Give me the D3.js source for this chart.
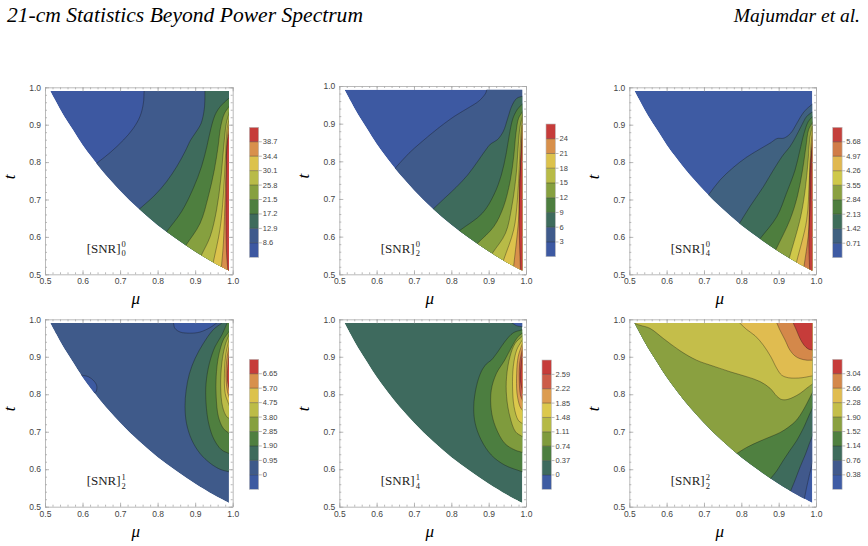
<!DOCTYPE html>
<html>
<head>
<meta charset="utf-8">
<script src="https://cdn.jsdelivr.net/npm/d3@7/dist/d3.min.js"></script>
<style>
  body { margin: 0; background: #fff; }
  svg { display: block; }
  .tk text { font-family: "Liberation Sans", Arial, sans-serif; font-size: 8.5px; fill: #444; }
  .tk path, .tk line { stroke: #a8a8a8; stroke-width: 0.8; }
  .cb text { font-family: "Liberation Sans", Arial, sans-serif; font-size: 7.5px; fill: #444; }
</style>
</head>
<body>
<svg id="fig" width="868" height="546"></svg>
<script>
// lower-left edge of the allowed (mu, t) region
const edge = [[0.514,0.99],[0.53,0.96],[0.55,0.924],[0.575,0.885],[0.6,0.846],[0.625,0.812],
  [0.65,0.78],[0.7,0.724],[0.75,0.675],[0.8,0.632],[0.85,0.595],[0.9,0.561],[0.95,0.531],[0.99,0.51]];

const muTicks = [0.5, 0.6, 0.7, 0.8, 0.9, 1.0];
const tTicks = [0.5, 0.6, 0.7, 0.8, 0.9, 1.0];

// contour levels (colour bar labels, bottom to top)
const levels00 = ["8.6","12.9","17.2","21.5","25.8","30.1","34.4","38.7"];
const levels02 = ["3","6","9","12","15","18","21","24"];
const levels04 = ["0.71","1.42","2.13","2.84","3.55","4.26","4.97","5.68"];
const levels12 = ["0","0.95","1.90","2.85","3.80","4.75","5.70","6.65"];
const levels14 = ["0","0.37","0.74","1.11","1.48","1.85","2.22","2.59"];
const levels22 = ["0.38","0.76","1.14","1.52","1.90","2.28","2.66","3.04"];

// contour lines as [mu, t] points; b = band index filled on the enclosed side
const lines00 = [
  {b:1, via:"R", p:[[0.764,0.99],[0.762,0.957],[0.753,0.922],[0.735,0.89],[0.709,0.859],[0.673,0.825],[0.638,0.797]]},
  {b:2, via:"R", p:[[0.926,0.99],[0.925,0.948],[0.916,0.904],[0.900,0.877],[0.888,0.859],[0.873,0.828],[0.851,0.788],[0.824,0.748],[0.793,0.712],[0.751,0.674]]},
  {b:3, via:"R", p:[[0.99,0.971],[0.968,0.950],[0.953,0.926],[0.941,0.886],[0.931,0.841],[0.917,0.788],[0.895,0.730],[0.864,0.668],[0.824,0.614]]},
  {b:4, via:"R", p:[[0.99,0.948],[0.978,0.930],[0.968,0.895],[0.961,0.841],[0.951,0.779],[0.935,0.708],[0.913,0.636],[0.875,0.577]]},
  {b:5, via:"R", p:[[0.99,0.930],[0.983,0.904],[0.976,0.841],[0.968,0.752],[0.957,0.672],[0.94,0.601],[0.917,0.552]]},
  {b:6, via:"R", p:[[0.99,0.914],[0.985,0.886],[0.98,0.80],[0.975,0.71],[0.966,0.62],[0.948,0.531]]},
  {b:7, via:"R", p:[[0.99,0.899],[0.986,0.868],[0.982,0.78],[0.979,0.68],[0.975,0.58],[0.97,0.52]]},
  {b:8, via:"R", p:[[0.99,0.877],[0.985,0.85],[0.983,0.75],[0.982,0.64],[0.984,0.55],[0.987,0.512]]}
];
const lines02 = [
  {b:1, via:"R", p:[[0.895,0.99],[0.892,0.981],[0.875,0.961],[0.844,0.941],[0.809,0.920],[0.765,0.888],[0.721,0.852],[0.686,0.821],[0.649,0.781]]},
  {b:2, via:"R", p:[[0.99,0.973],[0.975,0.967],[0.962,0.947],[0.951,0.914],[0.939,0.879],[0.923,0.857],[0.905,0.846],[0.892,0.830],[0.870,0.799],[0.844,0.764],[0.813,0.731],[0.782,0.702],[0.753,0.675]]},
  {b:3, via:"R", p:[[0.99,0.952],[0.977,0.938],[0.965,0.914],[0.956,0.874],[0.947,0.821],[0.934,0.764],[0.914,0.711],[0.883,0.662],[0.822,0.616]]},
  {b:4, via:"R", p:[[0.99,0.931],[0.98,0.914],[0.973,0.874],[0.967,0.812],[0.958,0.75],[0.94,0.68],[0.914,0.627],[0.870,0.582]]},
  {b:5, via:"R", p:[[0.99,0.918],[0.984,0.892],[0.979,0.839],[0.974,0.768],[0.962,0.68],[0.945,0.609],[0.91,0.556]]},
  {b:6, via:"R", p:[[0.99,0.905],[0.986,0.865],[0.982,0.786],[0.977,0.697],[0.967,0.618],[0.94,0.538]]},
  {b:7, via:"R", p:[[0.99,0.894],[0.987,0.839],[0.984,0.75],[0.98,0.644],[0.967,0.522]]},
  {b:8, via:"R", p:[[0.99,0.874],[0.986,0.812],[0.982,0.733],[0.982,0.618],[0.985,0.513]]}
];
const lines04 = [
  {b:1, via:"R", p:[[0.99,0.955],[0.968,0.935],[0.95,0.906],[0.932,0.877],[0.914,0.864],[0.896,0.863],[0.879,0.852],[0.85,0.835],[0.814,0.813],[0.779,0.786],[0.743,0.752],[0.712,0.712]]},
  {b:2, via:"R", p:[[0.99,0.934],[0.975,0.922],[0.962,0.899],[0.946,0.868],[0.93,0.841],[0.912,0.819],[0.886,0.779],[0.859,0.734],[0.823,0.681],[0.795,0.636]]},
  {b:3, via:"R", p:[[0.99,0.921],[0.979,0.908],[0.968,0.877],[0.957,0.832],[0.944,0.779],[0.921,0.717],[0.895,0.654],[0.85,0.595]]},
  {b:4, via:"R", p:[[0.99,0.905],[0.98,0.886],[0.973,0.841],[0.964,0.779],[0.95,0.708],[0.93,0.645],[0.893,0.567]]},
  {b:5, via:"R", p:[[0.99,0.894],[0.984,0.868],[0.979,0.806],[0.972,0.734],[0.959,0.654],[0.929,0.545]]},
  {b:6, via:"R", p:[[0.99,0.88],[0.986,0.841],[0.982,0.752],[0.975,0.645],[0.948,0.533]]},
  {b:7, via:"R", p:[[0.99,0.868],[0.987,0.797],[0.984,0.681],[0.979,0.601],[0.968,0.522]]},
  {b:8, via:"R", p:[[0.99,0.849],[0.984,0.788],[0.982,0.681],[0.981,0.574],[0.983,0.513]]}
];
const lines12 = [
  {b:0, via:"", p:[[0.842,0.99],[0.846,0.976],[0.860,0.966],[0.886,0.963],[0.913,0.966],[0.94,0.978],[0.957,0.99]]},
  {b:0, via:"", p:[[0.597,0.851],[0.615,0.847],[0.63,0.836],[0.638,0.822],[0.636,0.807],[0.631,0.803]]},
  {b:2, via:"C", p:[[0.971,0.99],[0.948,0.972],[0.922,0.936],[0.9,0.896],[0.885,0.856],[0.876,0.811],[0.873,0.767],[0.877,0.722],[0.891,0.678],[0.913,0.642],[0.94,0.616],[0.966,0.60],[0.99,0.593]]},
  {b:3, via:"C", p:[[0.985,0.99],[0.971,0.958],[0.953,0.927],[0.938,0.883],[0.929,0.829],[0.929,0.776],[0.936,0.722],[0.95,0.68],[0.97,0.652],[0.99,0.642]]},
  {b:4, via:"C", p:[[0.99,0.967],[0.975,0.945],[0.962,0.9],[0.956,0.847],[0.956,0.794],[0.962,0.74],[0.975,0.709],[0.99,0.696]]},
  {b:5, via:"C", p:[[0.99,0.958],[0.98,0.931],[0.971,0.883],[0.968,0.82],[0.973,0.767],[0.984,0.74],[0.99,0.736]]},
  {b:6, via:"C", p:[[0.99,0.945],[0.982,0.909],[0.978,0.856],[0.98,0.802],[0.99,0.772]]},
  {b:7, via:"C", p:[[0.99,0.927],[0.984,0.891],[0.982,0.847],[0.986,0.807],[0.99,0.794]]},
  {b:8, via:"C", p:[[0.99,0.905],[0.987,0.874],[0.986,0.838],[0.99,0.816]]}
];
const lines14 = [
  {b:0, via:"C", p:[[0.963,0.99],[0.975,0.983],[0.99,0.98]]},
  {b:2, via:"C", p:[[0.99,0.972],[0.966,0.964],[0.943,0.94],[0.925,0.914],[0.907,0.891],[0.894,0.881],[0.88,0.86],[0.867,0.82],[0.86,0.767],[0.864,0.722],[0.88,0.678],[0.907,0.638],[0.943,0.611],[0.99,0.593]]},
  {b:3, via:"C", p:[[0.99,0.963],[0.979,0.954],[0.962,0.927],[0.943,0.891],[0.921,0.856],[0.907,0.811],[0.907,0.758],[0.918,0.714],[0.943,0.669],[0.971,0.651],[0.99,0.645]]},
  {b:4, via:"C", p:[[0.99,0.955],[0.971,0.936],[0.957,0.9],[0.948,0.847],[0.948,0.794],[0.957,0.74],[0.972,0.7],[0.99,0.687]]},
  {b:5, via:"C", p:[[0.99,0.945],[0.975,0.918],[0.966,0.874],[0.964,0.82],[0.968,0.767],[0.979,0.731],[0.99,0.722]]},
  {b:6, via:"C", p:[[0.99,0.935],[0.979,0.9],[0.975,0.856],[0.976,0.802],[0.984,0.767],[0.99,0.758]]},
  {b:7, via:"C", p:[[0.99,0.92],[0.983,0.883],[0.982,0.838],[0.985,0.798],[0.99,0.785]]},
  {b:8, via:"C", p:[[0.99,0.905],[0.986,0.869],[0.985,0.838],[0.99,0.811]]}
];
const lines22 = [
  {b:1, via:"L", p:[[0.969,0.522],[0.975,0.552],[0.982,0.583],[0.99,0.614]]},
  {b:2, via:"L", p:[[0.932,0.542],[0.944,0.571],[0.957,0.605],[0.971,0.638],[0.984,0.673],[0.99,0.687]]},
  {b:3, via:"L", p:[[0.879,0.576],[0.895,0.596],[0.912,0.623],[0.93,0.65],[0.948,0.676],[0.966,0.709],[0.982,0.745],[0.99,0.762]]},
  {b:4, via:"L", p:[[0.788,0.642],[0.814,0.658],[0.85,0.675],[0.886,0.69],[0.904,0.698],[0.926,0.712],[0.948,0.731],[0.966,0.758],[0.984,0.792],[0.99,0.804]]},
  {b:5, via:"C", p:[[0.512,0.99],[0.529,0.984],[0.555,0.976],[0.591,0.949],[0.636,0.916],[0.68,0.891],[0.725,0.875],[0.77,0.86],[0.814,0.847],[0.85,0.834],[0.877,0.816],[0.895,0.795],[0.908,0.786],[0.923,0.786],[0.939,0.792],[0.957,0.802],[0.975,0.816],[0.99,0.827]]},
  {b:6, via:"C", p:[[0.796,0.99],[0.814,0.973],[0.837,0.956],[0.859,0.931],[0.879,0.9],[0.895,0.869],[0.908,0.851],[0.926,0.844],[0.944,0.843],[0.962,0.844],[0.99,0.849]]},
  {b:7, via:"C", p:[[0.895,0.99],[0.904,0.97],[0.917,0.945],[0.93,0.918],[0.944,0.902],[0.957,0.895],[0.975,0.891],[0.99,0.891]]},
  {b:8, via:"C", p:[[0.939,0.99],[0.948,0.97],[0.957,0.949],[0.968,0.931],[0.979,0.921],[0.99,0.918]]}
];

// band colours, bottom to top
const pal00 = ["#3d58a1","#3f5a8c","#3e6b5c","#4e7f3f","#86a03f","#b8bb48","#dcc24c","#d8904c","#c63c3a"];
const pal02 = ["#3d59a2","#3f5a8b","#3e6b5c","#4d7e3f","#86a03f","#b8bb47","#dcc24c","#d8904b","#c63c3a"];
const pal04 = ["#3e5ba3","#406180","#3e6d5a","#4e7e3e","#8aa040","#cfc84a","#e0b850","#d07c48","#c4403c"];
const pal12 = ["#3d5aa1","#3f5a8a","#3e6b5c","#4f7f3f","#86a03f","#bcbc47","#dcc24c","#d8904c","#c63c3a"];
const pal14 = ["#3e5ca2","#3e6a5e","#4c7e40","#7f9b3d","#b5b946","#dcc84c","#dc9c50","#cc5c48","#c63c3a"];
const pal22 = ["#3f5ca5","#41598c","#3e6b5c","#4f8040","#8aa040","#c4be4a","#e0bc50","#d4884a","#c63c3a"];

const panels = [
  {lines: lines00, levels: levels00, pal: pal00, base: 0, sup: "0", sub: "0", x0: 45,    x1: 232.7, y0: 87.3,  y1: 274.3, bx: 249.3, by0: 127.3, by1: 257.3},
  {lines: lines02, levels: levels02, pal: pal02, base: 0, sup: "0", sub: "2", x0: 339.3, x1: 526,   y0: 86,    y1: 274.3, bx: 546,   by0: 124,   by1: 256.7},
  {lines: lines04, levels: levels04, pal: pal04, base: 0, sup: "0", sub: "4", x0: 629.3, x1: 816,   y0: 87.3,  y1: 274.3, bx: 832.7, by0: 127.3, by1: 257.7},
  {lines: lines12, levels: levels12, pal: pal12, base: 1, sup: "1", sub: "2", x0: 45,    x1: 232.7, y0: 319.3, y1: 506.7, bx: 249.3, by0: 359.3, by1: 489.3},
  {lines: lines14, levels: levels14, pal: pal14, base: 1, sup: "1", sub: "4", x0: 339.3, x1: 526,   y0: 319.3, y1: 506.7, bx: 542,   by0: 360,   by1: 489.3},
  {lines: lines22, levels: levels22, pal: pal22, base: 0, sup: "2", sub: "2", x0: 629.3, x1: 816,   y0: 319.3, y1: 506.7, bx: 832.7, by0: 359.3, by1: 489.3}
];

// points outside the plotted region used to close each filled band
const closeVia = {
  R: [[0.4,0.4],[1.1,0.4],[1.1,1.1]],
  C: [[1.1,1.1]],
  L: [[1.1,1.1],[0.4,1.1],[0.4,0.4]],
  "": []
};

const svg = d3.select("#fig");

svg.append("text")
  .attr("x", 7).attr("y", 22)
  .attr("textLength", 356).attr("lengthAdjust", "spacingAndGlyphs")
  .style("font-family", "'Liberation Serif', 'Times New Roman', serif")
  .style("font-style", "italic").style("font-size", "21px")
  .text("21-cm Statistics Beyond Power Spectrum");
svg.append("text")
  .attr("x", 860).attr("y", 22).attr("text-anchor", "end")
  .style("font-family", "'Liberation Serif', 'Times New Roman', serif")
  .style("font-style", "italic").style("font-size", "19.5px")
  .text("Majumdar et al.");

function extend(p) {
  const out = (a, b) => {
    const dx = a[0] - b[0], dy = a[1] - b[1], n = Math.hypot(dx, dy) || 1;
    return [a[0] + dx / n * 0.06, a[1] + dy / n * 0.06];
  };
  return [out(p[0], p[1]), ...p, out(p[p.length - 1], p[p.length - 2])];
}

panels.forEach((P, i) => {
  const x = d3.scaleLinear().domain([0.5, 1.0]).range([P.x0, P.x1]);
  const y = d3.scaleLinear().domain([0.5, 1.0]).range([P.y1, P.y0]);
  const g = svg.append("g");

  const curve = d3.line().x(d => x(d[0])).y(d => y(d[1])).curve(d3.curveCatmullRom.alpha(0.5));

  // allowed region
  const region = curve(edge) + "L" + x(0.99) + "," + y(0.99) + "L" + x(edge[0][0]) + "," + y(0.99) + "Z";
  svg.append("clipPath").attr("id", "clip" + i).append("path").attr("d", region);

  const fills = g.append("g").attr("clip-path", "url(#clip" + i + ")");
  fills.append("path").attr("d", region).attr("fill", P.pal[P.base]);

  fills.selectAll("path.band").data(P.lines).join("path")
    .attr("class", "band")
    .attr("d", d => {
      let s = curve(extend(d.p));
      closeVia[d.via].forEach(v => { s += "L" + x(v[0]) + "," + y(v[1]); });
      return s + "Z";
    })
    .attr("fill", d => P.pal[d.b]);

  fills.selectAll("path.iso").data(P.lines).join("path")
    .attr("class", "iso")
    .attr("d", d => curve(extend(d.p)))
    .attr("fill", "none")
    .attr("stroke", "rgba(20,20,20,0.5)")
    .attr("stroke-width", 0.7);

  // frame with ticks on all four sides
  const minor = d3.range(0.5, 1.0001, 0.02);
  const frame = [
    [() => d3.axisBottom(x), "translate(0," + P.y1 + ")", true, muTicks],
    [() => d3.axisTop(x), "translate(0," + P.y0 + ")", false, muTicks],
    [() => d3.axisLeft(y), "translate(" + P.x0 + ",0)", true, tTicks],
    [() => d3.axisRight(y), "translate(" + P.x1 + ",0)", false, tTicks]
  ];
  frame.forEach(([mk, tr, lab, ticks]) => {
    g.append("g").attr("class", "tk").attr("transform", tr)
      .call(mk().tickValues(minor).tickSize(-2).tickSizeOuter(0).tickFormat(""))
      .call(s => s.select(".domain").remove());
    g.append("g").attr("class", "tk").attr("transform", tr)
      .call(mk().tickValues(ticks).tickSize(-4).tickSizeOuter(0).tickPadding(4)
        .tickFormat(lab ? d3.format(".1f") : ""));
  });

  // axis titles
  svg.append("text")
    .attr("transform", "translate(" + (P.x0 - 30) + "," + ((P.y0 + P.y1) / 2 - 4) + ") rotate(-90)")
    .attr("text-anchor", "middle")
    .style("font-family", "'Liberation Serif', serif").style("font-style", "italic").style("font-size", "17px")
    .text("t");
  svg.append("text")
    .attr("x", (P.x0 + P.x1) / 2 - 3).attr("y", P.y1 + 30)
    .attr("text-anchor", "middle")
    .style("font-family", "'Liberation Serif', serif").style("font-style", "italic").style("font-size", "17px")
    .text("μ");

  // [SNR] label
  const lab = svg.append("text")
    .attr("x", x(0.611)).attr("y", y(0.557))
    .style("font-family", "'Liberation Serif', serif").style("font-size", "13px").style("fill", "#222")
    .text("[SNR]");
  const w = lab.node().getComputedTextLength();
  svg.append("text").attr("x", x(0.611) + w + 1).attr("y", y(0.557) - 5.5)
    .style("font-family", "'Liberation Serif', serif").style("font-size", "8.5px").style("fill", "#222")
    .text(P.sup);
  svg.append("text").attr("x", x(0.611) + w + 1).attr("y", y(0.557) + 3.5)
    .style("font-family", "'Liberation Serif', serif").style("font-size", "8.5px").style("fill", "#222")
    .text(P.sub);

  // colour bar
  const cb = svg.append("g").attr("class", "cb");
  const bandIdx = d3.range(P.pal.length);
  const yb = d3.scaleLinear().domain([0, P.pal.length]).range([P.by1, P.by0]);
  cb.selectAll("rect").data(bandIdx).join("rect")
    .attr("x", P.bx).attr("width", 9.4)
    .attr("y", d => yb(d + 1)).attr("height", d => yb(d) - yb(d + 1))
    .attr("fill", d => P.pal[d]);
  cb.selectAll("line.sep").data(P.levels).join("line")
    .attr("class", "sep")
    .attr("x1", P.bx).attr("x2", P.bx + 9.4)
    .attr("y1", (d, k) => yb(k + 1)).attr("y2", (d, k) => yb(k + 1))
    .attr("stroke", "rgba(20,20,20,0.5)").attr("stroke-width", 0.7);
  cb.selectAll("line.tick").data(P.levels).join("line")
    .attr("class", "tick")
    .attr("x1", P.bx + 9.4).attr("x2", P.bx + 12.5)
    .attr("y1", (d, k) => yb(k + 1)).attr("y2", (d, k) => yb(k + 1))
    .attr("stroke", "#888").attr("stroke-width", 0.6);
  cb.selectAll("text").data(P.levels).join("text")
    .attr("x", P.bx + 13.5).attr("y", (d, k) => yb(k + 1))
    .attr("dy", "0.33em")
    .text(d => d);
  cb.append("rect").attr("x", P.bx).attr("y", P.by0).attr("width", 9.4).attr("height", P.by1 - P.by0)
    .attr("fill", "none").attr("stroke", "#bbb").attr("stroke-width", 0.6);
});
</script>
</body>
</html>
